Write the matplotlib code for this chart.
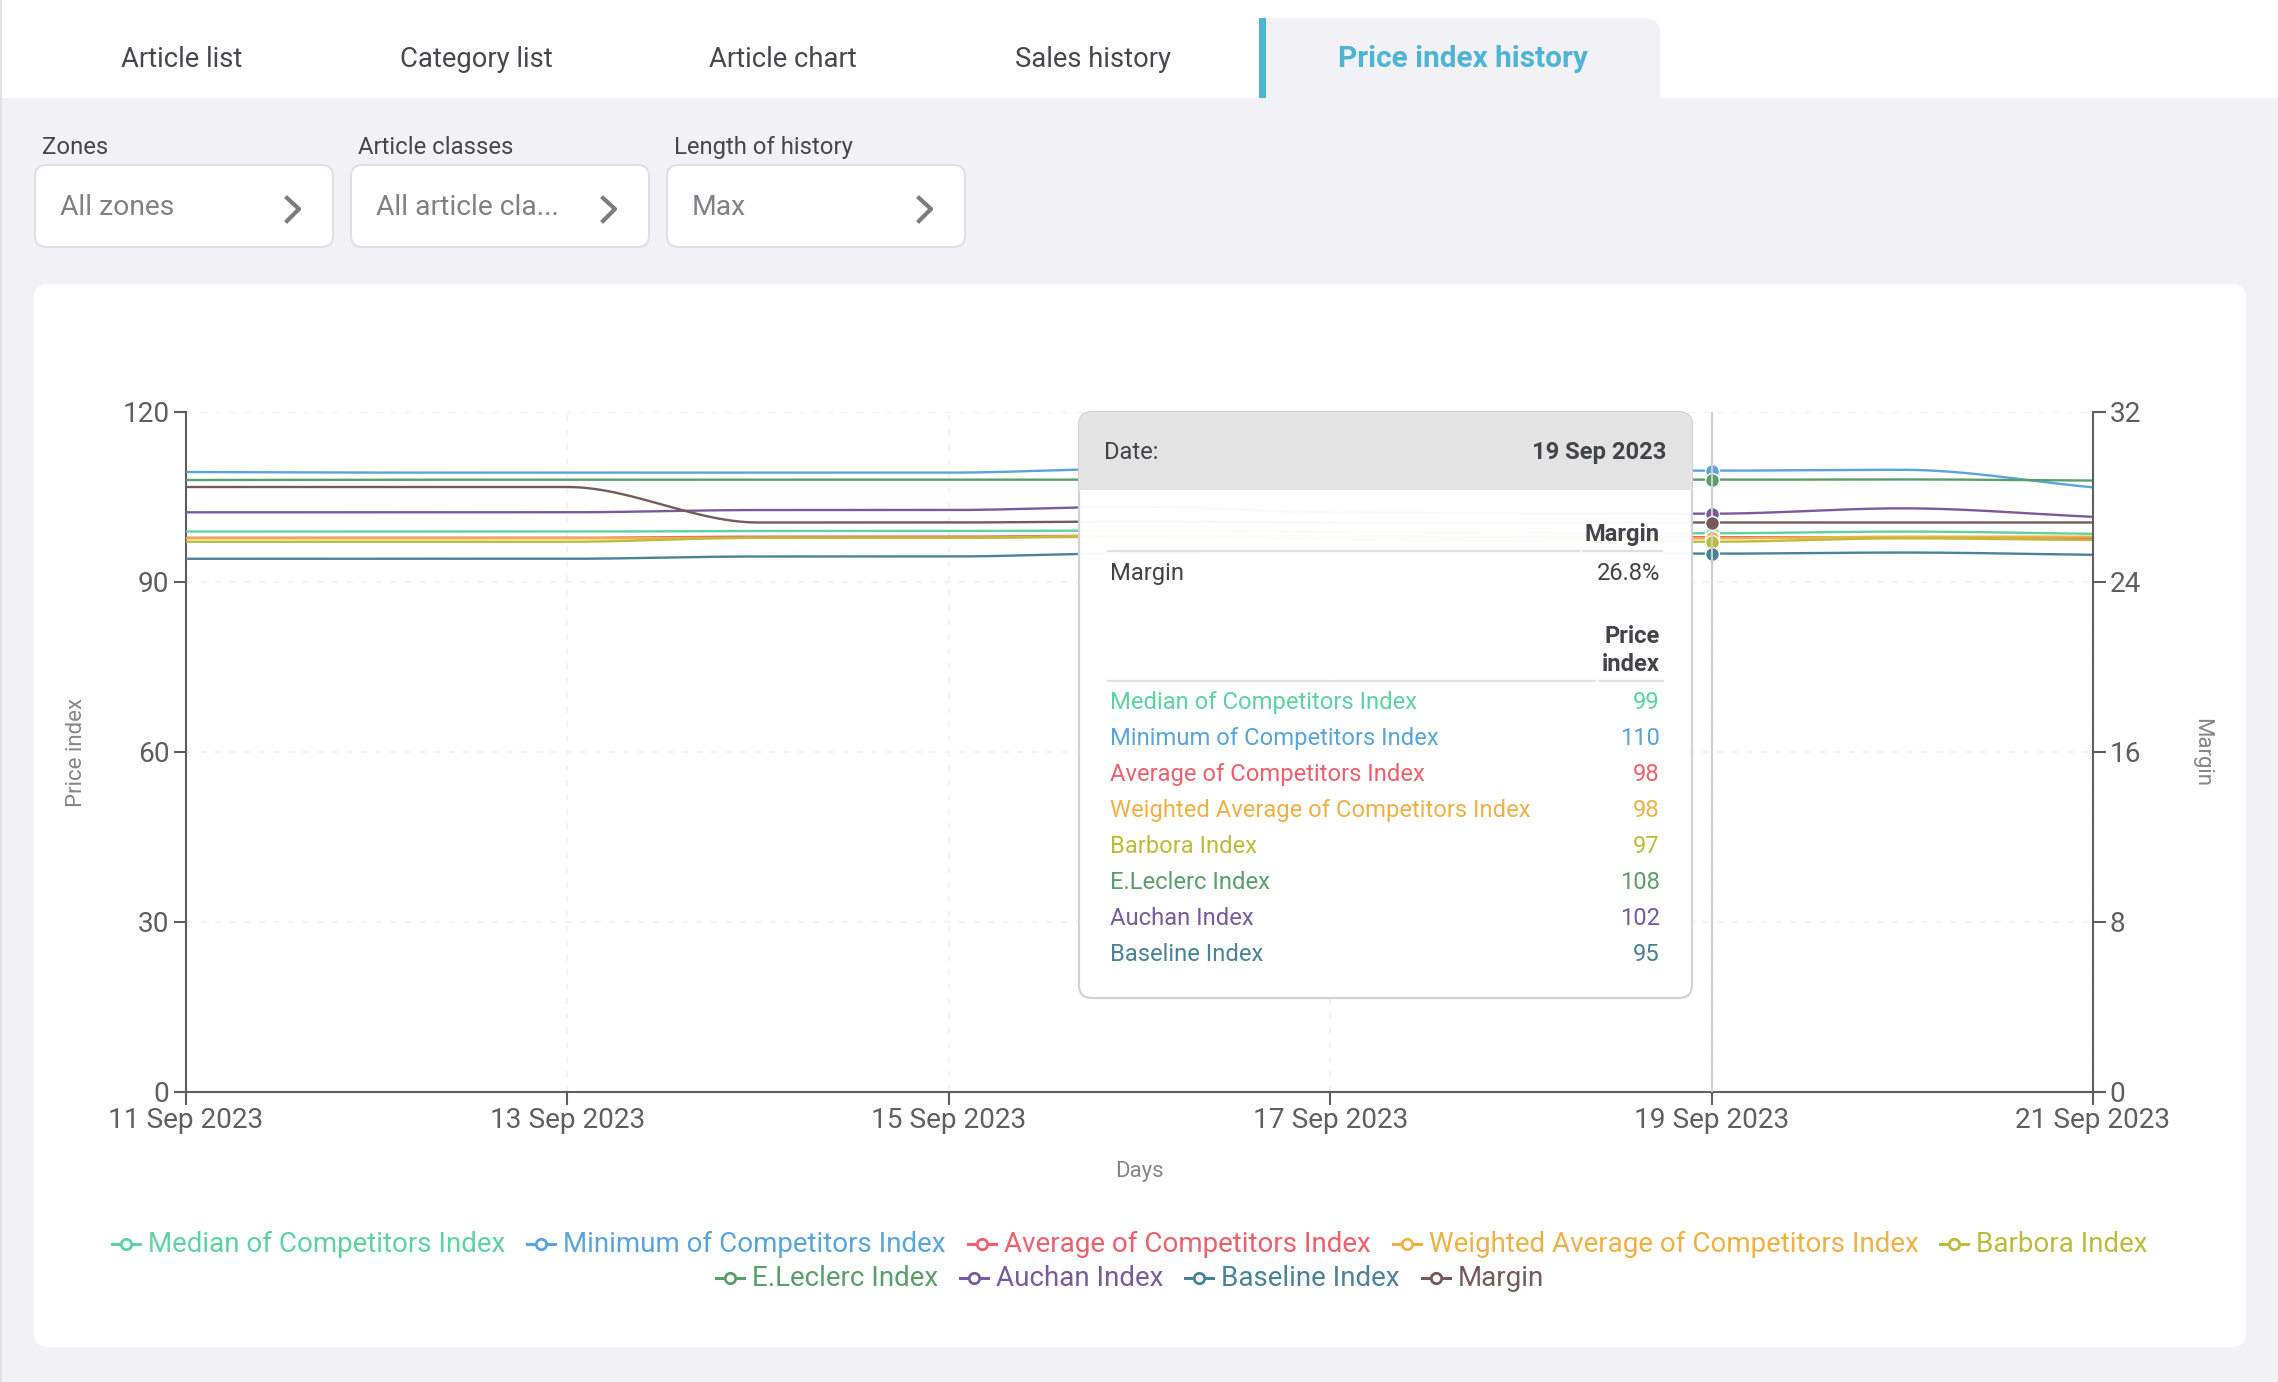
import datetime as dt
import numpy as np
import matplotlib
matplotlib.use("Agg")
import matplotlib.pyplot as plt
import matplotlib.dates as mdates
from matplotlib.patches import FancyBboxPatch, Rectangle

plt.rcParams['font.family'] = ['Roboto', 'DejaVu Sans']

days = [dt.datetime(2023, 9, d) for d in range(11, 22)]

median_idx = [98.9, 98.9, 98.9, 99.0, 99.0, 99.1, 98.8, 98.7, 98.6, 98.9, 98.5]
minimum_idx = [109.4, 109.3, 109.3, 109.3, 109.3, 110.0, 109.8, 109.7, 109.65, 109.8, 106.7]
average_idx = [97.8, 97.8, 97.8, 98.0, 98.0, 98.2, 98.0, 98.0, 97.9, 97.9, 97.8]
weighted_idx = [97.7, 97.7, 97.7, 97.8, 97.8, 98.2, 97.9, 97.8, 97.7, 98.0, 98.0]
barbora_idx = [97.1, 97.1, 97.1, 97.8, 97.8, 98.0, 97.5, 97.2, 97.1, 97.7, 97.4]
leclerc_idx = [108.0, 108.05, 108.05, 108.05, 108.05, 108.05, 108.05, 108.05, 108.05, 108.1, 107.9]
auchan_idx = [102.3, 102.3, 102.3, 102.7, 102.7, 103.3, 102.3, 102.1, 102.05, 103.0, 101.5]
baseline_idx = [94.1, 94.1, 94.1, 94.5, 94.5, 95.1, 95.0, 95.0, 95.0, 95.2, 94.8]
margin = [28.47, 28.47, 28.47, 26.8, 26.8, 26.85, 26.8, 26.8, 26.8, 26.8, 26.8]

names = ['Median of Competitors Index', 'Minimum of Competitors Index', 'Average of Competitors Index',
         'Weighted Average of Competitors Index', 'Barbora Index', 'E.Leclerc Index', 'Auchan Index',
         'Baseline Index']
series = [median_idx, minimum_idx, average_idx, weighted_idx, barbora_idx, leclerc_idx, auchan_idx, baseline_idx]
colors = ['#5dd3a2', '#58a4dc', '#ef5f6c', '#efb143', '#bcbc3a', '#5a9e6b', '#795a9b', '#4a8298']
margin_color = '#745a58'
tooltip_values = ['99', '110', '98', '98', '97', '108', '102', '95']

tabs = ['Article list', 'Category list', 'Article chart', 'Sales history']
filters = ['Zones', 'Article classes', 'Length of history']
filter_values = ['All zones', 'All article cla...', 'Max']

PAGE = '#f1f1f6'
W, H = 2278, 1382


# same idea as d3 curveMonotoneX, the lines in the chart are drawn this way
def monotone(x, y, n=30):
    x = np.array(x, dtype=float)
    y = np.array(y, dtype=float)
    s = np.diff(y) / np.diff(x)
    m = np.zeros(len(y))
    m[0], m[-1] = s[0], s[-1]
    for i in range(1, len(y) - 1):
        if s[i - 1] * s[i] > 0:
            m[i] = 2 * s[i - 1] * s[i] / (s[i - 1] + s[i])
    xs, ys = [], []
    for i in range(len(y) - 1):
        h = x[i + 1] - x[i]
        t = np.linspace(0, 1, n)
        ys.append((2*t**3 - 3*t**2 + 1) * y[i] + (t**3 - 2*t**2 + t) * h * m[i]
                  + (-2*t**3 + 3*t**2) * y[i + 1] + (t**3 - t**2) * h * m[i + 1])
        xs.append(x[i] + t * h)
    return np.concatenate(xs), np.concatenate(ys)


def pixel_axes(z):
    a = fig.add_axes([0, 0, 1, 1], zorder=z)
    a.set_xlim(0, W)
    a.set_ylim(H, 0)
    a.axis('off')
    a.patch.set_alpha(0)
    return a


def round_box(a, x0, y0, x1, y1, r, **kw):
    p = FancyBboxPatch((x0 + r, y0 + r), x1 - x0 - 2 * r, y1 - y0 - 2 * r,
                       boxstyle=f'round,pad={r},rounding_size={r}', **kw)
    a.add_patch(p)
    return p


fig = plt.figure(figsize=(W / 100, H / 100), dpi=100, facecolor=PAGE)

# page chrome
ui = pixel_axes(0)
ui.add_patch(Rectangle((0, 0), W, 98, fc='white', ec='none'))
ui.add_patch(Rectangle((0, 0), 2, H, fc='#e2e2e6', ec='none'))
for t, cx in zip(tabs, [182, 476, 783, 1093]):
    ui.text(cx, 59, t, ha='center', va='center', fontsize=19.7, color='#46464c')
tab = round_box(ui, 1259, 18, 1660, 140, 16, fc=PAGE, ec='none')
tab.set_clip_path(Rectangle((1259, 0), 401, 98, transform=ui.transData))
ui.add_patch(Rectangle((1259, 18), 7, 80, fc='#4db5d3', ec='none'))
ui.text(1463, 59, 'Price index history', ha='center', va='center', fontsize=21.4,
        fontweight='bold', color='#4db5d3')

for label, val, x0 in zip(filters, filter_values, [35, 351, 667]):
    ui.text(x0 + 7, 147, label, ha='left', va='center', fontsize=17.2, color='#46464c')
    round_box(ui, x0, 165, x0 + 298, 247, 11, fc='white', ec='#dfdfe5', lw=1.5)
    ui.text(x0 + 25, 207, val, ha='left', va='center', fontsize=20.3, color='#808086')
    ui.plot([x0 + 252, x0 + 264, x0 + 252], [198, 209, 221], color='#7b7b80', lw=3)

round_box(ui, 34, 284, 2246, 1347, 14, fc='white', ec='none')

# chart
x0, x1, y_top, y_bot = 186, 2093, 412, 1092
ax = fig.add_axes([x0 / W, 1 - y_bot / H, (x1 - x0) / W, (y_bot - y_top) / H], zorder=1)
ax.patch.set_alpha(0)
day_num = mdates.date2num(days)
for vals, c in zip(series, colors):
    xs, ys = monotone(day_num, vals)
    ax.plot(xs, ys, color=c, lw=1.7, zorder=3)
ax.set_xlim(day_num[0], day_num[-1])
ax.set_ylim(0, 120)
ax.set_yticks([0, 30, 60, 90, 120])
ax.set_xticks(day_num[::2])
ax.xaxis.set_major_formatter(mdates.DateFormatter('%d %b %Y'))
ax.grid(True, color='#f2f2f4', lw=1.5, ls=(0, (3, 4)))
ax.set_axisbelow(True)
ax.tick_params(length=9, width=1.5, color='#5f5f62', labelcolor='#5f5f62', labelsize=20.2, pad=3)
ax.tick_params(axis='x', pad=2)
for s in ['top']:
    ax.spines[s].set_visible(False)
for s in ['left', 'bottom']:
    ax.spines[s].set_color('#5f5f62')
    ax.spines[s].set_linewidth(1.5)
ax.spines['right'].set_visible(False)

ax2 = ax.twinx()
ax2.patch.set_alpha(0)
xs, ys = monotone(day_num, margin)
ax2.plot(xs, ys, color=margin_color, lw=1.7, zorder=3)
ax2.set_ylim(0, 32)
ax2.set_yticks([0, 8, 16, 24, 32])
ax2.tick_params(length=9, width=1.5, color='#5f5f62', labelcolor='#5f5f62', labelsize=20.2, pad=3)
for s in ['top', 'left', 'bottom']:
    ax2.spines[s].set_visible(False)
ax2.spines['right'].set_color('#5f5f62')
ax2.spines['right'].set_linewidth(1.5)

# hover cursor on 19 Sep
hover = 8
ax2.axvline(day_num[hover], color='#cfcfd2', lw=1.5, zorder=2)
for vals, c in zip(series, colors):
    ax.plot(day_num[hover], vals[hover], 'o', ms=10, mfc=c, mec='white', mew=1, zorder=5, clip_on=False)
ax2.plot(day_num[hover], margin[hover], 'o', ms=10, mfc=margin_color, mec='white', mew=1, zorder=5)

top = pixel_axes(3)
top.text(77, 752, 'Price index', rotation=90, ha='center', va='center', fontsize=16, color='#86868a')
top.text(2202, 752, 'Margin', rotation=-90, ha='center', va='center', fontsize=16, color='#86868a')
top.text(1139, 1172, 'Days', ha='center', va='center', fontsize=16, color='#86868a')

# tooltip
box = round_box(top, 1079, 412, 1692, 998, 13, fc='white', ec='#d2d2d6', lw=1.6, alpha=0.965, zorder=5)
head = Rectangle((1079, 412), 613, 78, fc='#e3e3e4', ec='none', zorder=5.5)
top.add_patch(head)
head.set_clip_path(box)
dark = '#43434a'
tip_size = 17.1
top.text(1104, 452, 'Date:', ha='left', va='center', fontsize=tip_size, color=dark, zorder=6)
top.text(1666, 452, '19 Sep 2023', ha='right', va='center', fontsize=tip_size, fontweight='bold', color=dark, zorder=6)
top.text(1660, 534, 'Margin', ha='right', va='center', fontsize=tip_size, fontweight='bold', color=dark, zorder=6)
top.plot([1108, 1579], [551, 551], color='#e0e0e5', lw=1.6, zorder=6)
top.plot([1583, 1662], [551, 551], color='#e0e0e5', lw=1.6, zorder=6)
top.text(1110, 573, 'Margin', ha='left', va='center', fontsize=tip_size, color=dark, zorder=6)
top.text(1660, 573, '26.8%', ha='right', va='center', fontsize=tip_size, color=dark, zorder=6)
top.text(1660, 636, 'Price', ha='right', va='center', fontsize=tip_size, fontweight='bold', color=dark, zorder=6)
top.text(1660, 664, 'index', ha='right', va='center', fontsize=tip_size, fontweight='bold', color=dark, zorder=6)
top.plot([1108, 1595], [681, 681], color='#e0e0e5', lw=1.6, zorder=6)
top.plot([1600, 1663], [681, 681], color='#e0e0e5', lw=1.6, zorder=6)
for i, (n, v, c) in enumerate(zip(names, tooltip_values, colors)):
    y = 702 + i * 36
    top.text(1110, y, n, ha='left', va='center', fontsize=tip_size, color=c, zorder=6)
    top.text(1660, y, v, ha='right', va='center', fontsize=tip_size, color=c, zorder=6)

# legend, two centred rows
renderer = fig.canvas.get_renderer()
key_w, gap, key_gap = 28, 22, 8
leg_size = 20
rows = [(names[:5], colors[:5], 1244), (names[5:] + ['Margin'], colors[5:] + [margin_color], 1278)]
for labels, cols, y in rows:
    widths = []
    for n in labels:
        tx = top.text(0, 0, n, fontsize=leg_size)
        widths.append(tx.get_window_extent(renderer).width)
        tx.remove()
    total = sum(widths) + len(labels) * (key_w + key_gap) + gap * (len(labels) - 1)
    x = 1130 - total / 2
    for n, c, w_ in zip(labels, cols, widths):
        top.plot([x, x + key_w], [y, y], color=c, lw=2.2)
        top.plot(x + key_w / 2, y, 'o', ms=7.5, mfc='white', mec=c, mew=2)
        top.text(x + key_w + key_gap, y, n, ha='left', va='center', fontsize=leg_size, color=c)
        x += key_w + key_gap + w_ + gap

fig.savefig('out.png', dpi=100, facecolor=PAGE)
